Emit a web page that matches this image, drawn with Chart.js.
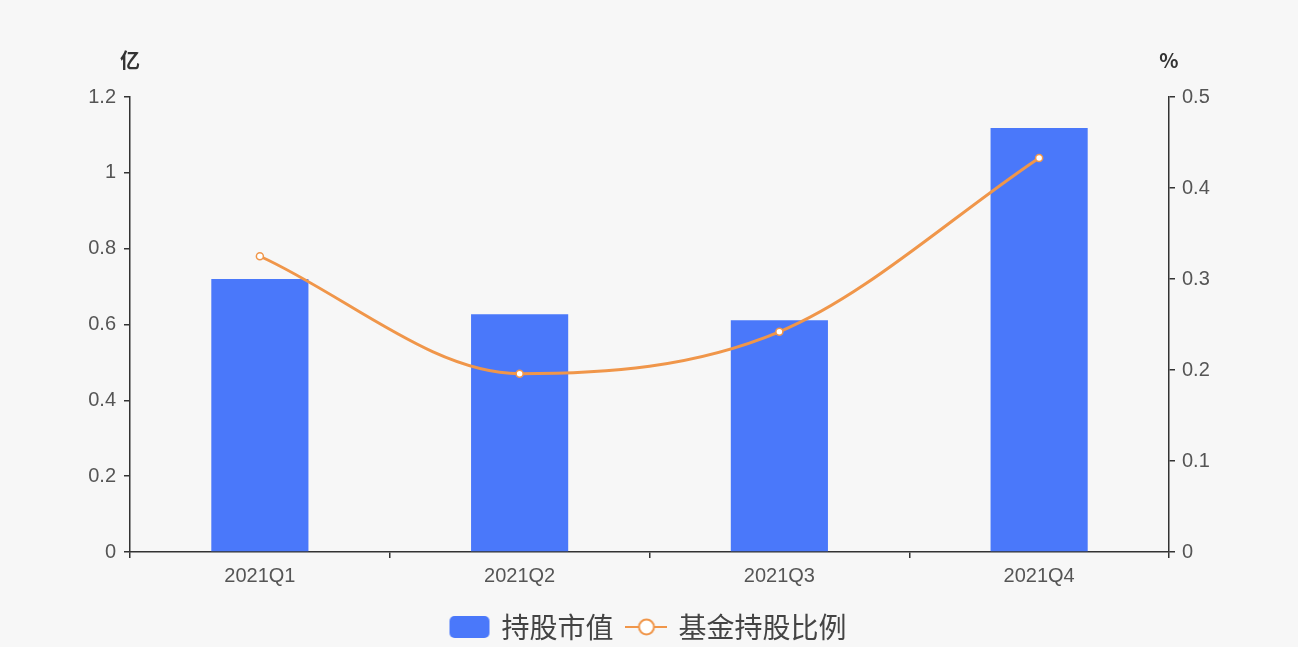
<!DOCTYPE html>
<html>
<head>
<meta charset="utf-8">
<script src="https://cdn.jsdelivr.net/npm/chart.js@4.4.1/dist/chart.umd.min.js"></script>
<style>
  html, body { margin: 0; padding: 0; background: #f7f7f7; }
  .chartingen { width: 1298px; height: 647px; }
</style>
</head>
<body>
<div class="chartingen"><canvas id="chart"></canvas></div>
<script>
const quarters = ["2021Q1", "2021Q2", "2021Q3", "2021Q4"];
const marketValue = [0.72, 0.627, 0.611, 1.118];   // 亿
const fundRatio = [0.325, 0.196, 0.242, 0.433];     // %
const seriesNames = ["持股市值", "基金持股比例"];

const blue = "#4a78fa";
const orange = "#f0964a";
const axisColor = "#333";
const tickFont = { family: "'Liberation Sans', Arial, sans-serif", size: 20 };

// legend icons
const barIcon = document.createElement("canvas");
barIcon.width = 42; barIcon.height = 24;
(function () {
  const c = barIcon.getContext("2d");
  c.fillStyle = blue;
  c.beginPath();
  c.roundRect(1, 1, 40, 22, 5);
  c.fill();
})();

const lineIcon = document.createElement("canvas");
lineIcon.width = 42; lineIcon.height = 24;
(function () {
  const c = lineIcon.getContext("2d");
  c.strokeStyle = orange;
  c.lineWidth = 2;
  c.beginPath();
  c.moveTo(0, 12); c.lineTo(42, 12);
  c.stroke();
  c.fillStyle = "#fff";
  c.beginPath();
  c.arc(21, 12, 7.5, 0, Math.PI * 2);
  c.fill();
  c.stroke();
})();

const unitLabels = {
  id: "unitLabels",
  afterDraw(chart) {
    const ctx = chart.ctx;
    const area = chart.chartArea;
    ctx.save();
    ctx.fillStyle = "#333";
    ctx.font = "bold 20px 'Noto Sans CJK SC', sans-serif";
    ctx.textAlign = "center";
    ctx.textBaseline = "middle";
    ctx.fillText("亿", area.left, 60);
    ctx.fillText("%", area.right, 60);
    ctx.restore();
  },
};

const trimNum = (v) => String(+Number(v).toFixed(2));

new Chart(document.getElementById("chart").getContext("2d"), {
  type: "bar",
  data: {
    labels: quarters,
    datasets: [
      {
        label: seriesNames[0],
        data: marketValue,
        backgroundColor: blue,
        borderWidth: 0,
        categoryPercentage: 0.374,
        barPercentage: 1,
        yAxisID: "y",
        order: 1,
      },
      {
        label: seriesNames[1],
        data: fundRatio,
        type: "line",
        borderColor: orange,
        borderWidth: 3,
        backgroundColor: "#fff",
        pointBackgroundColor: "#fff",
        pointBorderColor: orange,
        pointBorderWidth: 1.5,
        pointRadius: 3.5,
        fill: false,
        cubicInterpolationMode: "monotone",
        yAxisID: "y1",
        order: 0,
      },
    ],
  },
  options: {
    responsive: true,
    maintainAspectRatio: false,
    animation: false,
    layout: { padding: { top: 97, bottom: -4 } },
    plugins: {
      tooltip: { enabled: false },
      legend: {
        position: "bottom",
        labels: {
          usePointStyle: true,
          pointStyleWidth: 36,
          boxHeight: 24,
          padding: 15,
          color: "#444",
          font: { family: "'Noto Sans CJK SC', sans-serif", size: 28, lineHeight: 1 },
          sort: (a, b) => a.datasetIndex - b.datasetIndex,
          generateLabels(chart) {
            const items = Chart.defaults.plugins.legend.labels.generateLabels(chart);
            items.forEach((it) => {
              it.pointStyle = it.datasetIndex === 0 ? barIcon : lineIcon;
            });
            return items;
          },
        },
      },
    },
    scales: {
      x: {
        grid: { display: true, drawOnChartArea: false, drawTicks: true, tickLength: 6, color: axisColor, lineWidth: 1.5 },
        border: { color: axisColor, width: 1.5 },
        ticks: { color: "#555", font: tickFont, padding: 6 },
        afterFit(scale) { scale.height = 46; },
      },
      y: {
        position: "left",
        min: 0,
        max: 1.2,
        grid: { display: true, drawOnChartArea: false, drawTicks: true, tickLength: 6, color: axisColor, lineWidth: 1.5 },
        border: { color: axisColor, width: 1.5 },
        ticks: { stepSize: 0.2, color: "#555", font: tickFont, padding: 8, callback: trimNum },
        afterFit(scale) { scale.width = 130; },
      },
      y1: {
        position: "right",
        min: 0,
        max: 0.5,
        grid: { display: true, drawOnChartArea: false, drawTicks: true, tickLength: 6, color: axisColor, lineWidth: 1.5 },
        border: { color: axisColor, width: 1.5 },
        ticks: { stepSize: 0.1, color: "#555", font: tickFont, padding: 7, callback: trimNum },
        afterFit(scale) { scale.width = 129; },
      },
    },
  },
  plugins: [unitLabels],
});
</script>
</body>
</html>
